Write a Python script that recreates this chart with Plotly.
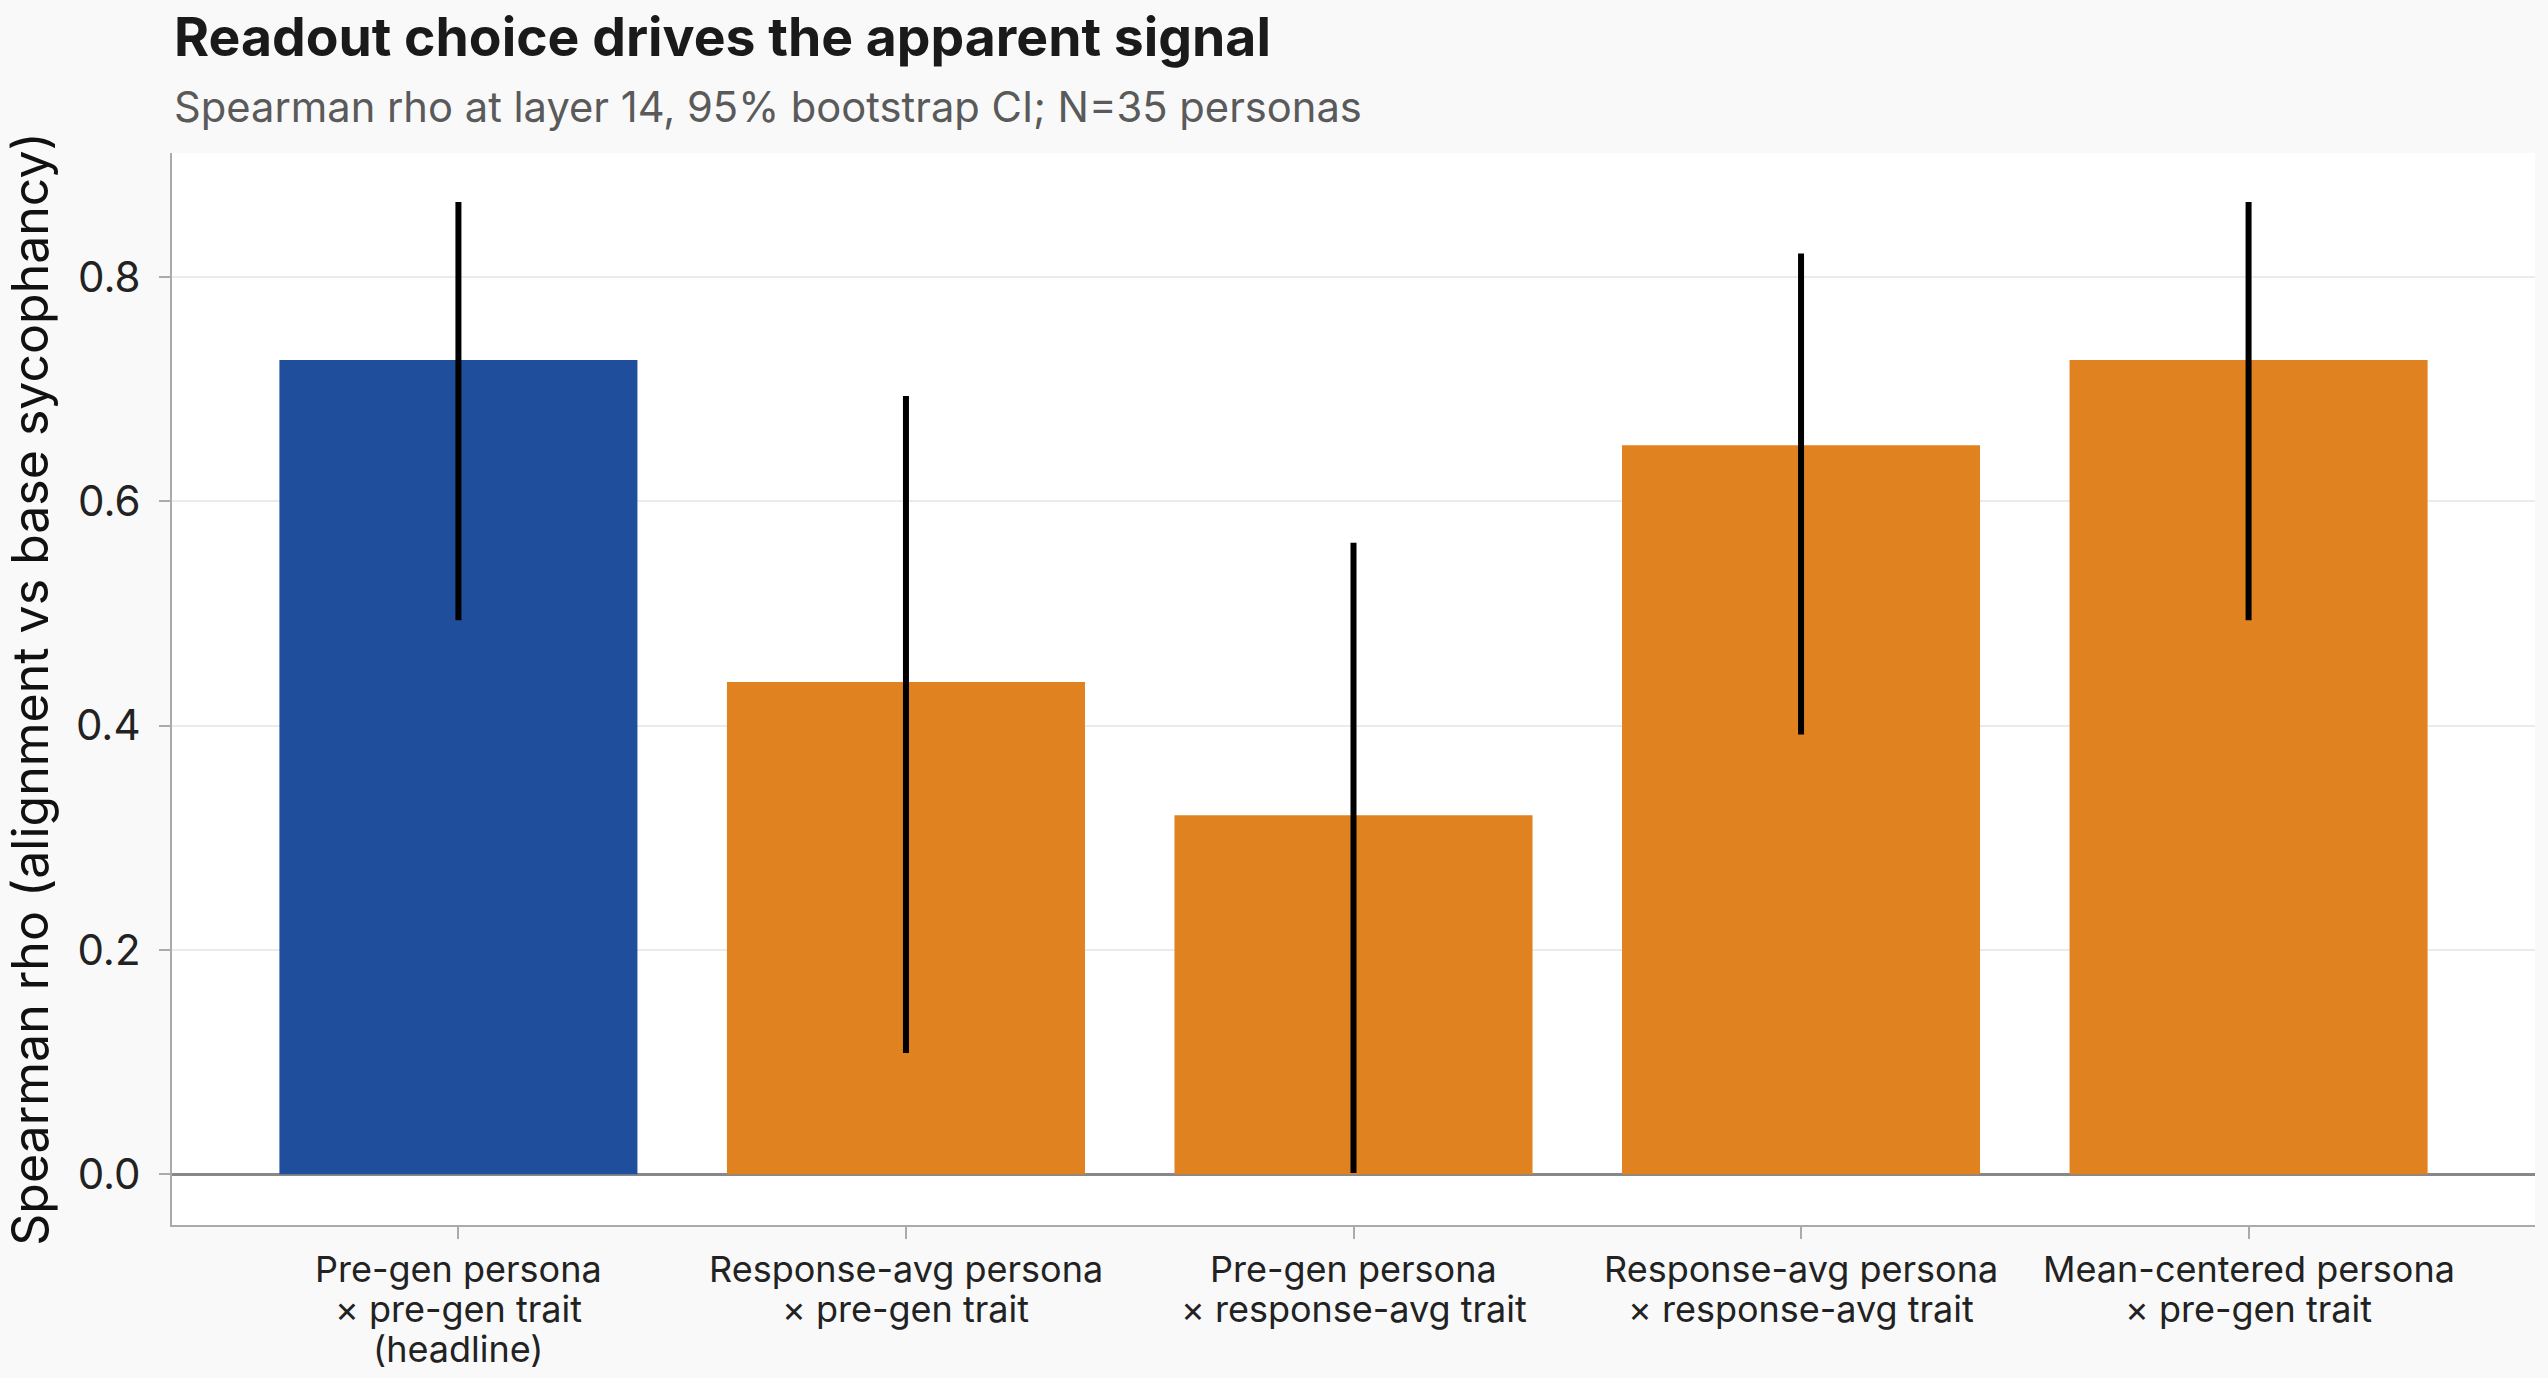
import plotly.graph_objects as go

label_lines = [
    ["Pre-gen persona", "× pre-gen trait", "(headline)"],
    ["Response-avg persona", "× pre-gen trait"],
    ["Pre-gen persona", "× response-avg trait"],
    ["Response-avg persona", "× response-avg trait"],
    ["Mean-centered persona", "× pre-gen trait"],
]
categories = [" ".join(lines) for lines in label_lines]
rho = [0.726, 0.439, 0.320, 0.650, 0.726]
ci_low = [0.494, 0.108, 0.001, 0.392, 0.494]
ci_high = [0.867, 0.694, 0.563, 0.821, 0.867]
bar_colors = ["#1F4F9C", "#E0821F", "#E0821F", "#E0821F", "#E0821F"]
y_ticks = [0.0, 0.2, 0.4, 0.6, 0.8]

err_plus = [h - v for h, v in zip(ci_high, rho)]
err_minus = [v - l for v, l in zip(rho, ci_low)]

FONT = "Inter"
W, H = 2548, 1378
M_L, M_R, M_T, M_B = 172, 13, 153, 153
plot_h = H - M_T - M_B

fig = go.Figure()
fig.add_trace(go.Bar(
    x=categories,
    y=rho,
    marker=dict(color=bar_colors, line=dict(width=0)),
    error_y=dict(type="data", symmetric=False, array=err_plus, arrayminus=err_minus,
                 color="#000000", thickness=6, width=0),
    showlegend=False,
))

annotations = [
    dict(text="<b>Readout choice drives the apparent signal</b>",
         xref="paper", yref="paper", x=0, y=1.109, xanchor="left", yanchor="middle",
         showarrow=False, font=dict(size=53.5, color="#1A1A1A", family=FONT)),
    dict(text="Spearman rho at layer 14, 95% bootstrap CI; N=35 personas",
         xref="paper", yref="paper", x=0, y=1.043, xanchor="left", yanchor="middle",
         showarrow=False, font=dict(size=41.7, color="#5A5A5A", family=FONT)),
]
# multi-line category labels under each tick, tighter line spacing than tick labels allow
line_centers_px = [1269, 1309, 1349]
for cat, lines in zip(categories, label_lines):
    for i, txt in enumerate(lines):
        annotations.append(dict(
            text=txt, xref="x", yref="paper", x=cat,
            y=-(line_centers_px[i] - (H - M_B)) / plot_h,
            xanchor="center", yanchor="middle", showarrow=False,
            font=dict(size=36, color="#222222", family=FONT),
        ))

fig.update_layout(
    width=W, height=H,
    margin=dict(l=M_L, r=M_R, t=M_T, b=M_B),
    paper_bgcolor="#F9F9F9",
    plot_bgcolor="#FFFFFF",
    font=dict(family=FONT, color="#222222"),
    bargap=0.2,
    xaxis=dict(
        range=[-0.64, 4.64],
        automargin=False,
        showline=True, linecolor="#AAAAAA", linewidth=2, mirror=False,
        ticks="outside", ticklen=12, tickwidth=2, tickcolor="#AAAAAA",
        showticklabels=False,
        showgrid=False,
    ),
    yaxis=dict(
        range=[-0.0453, 0.9106],
        automargin=False,
        tickvals=y_ticks,
        ticktext=[f"{v:.1f}" for v in y_ticks],
        showline=True, linecolor="#AAAAAA", linewidth=2,
        ticks="outside", ticklen=11, tickwidth=2, tickcolor="#AAAAAA",
        ticklabelstandoff=10,
        tickfont=dict(size=42, color="#222222", family=FONT),
        showgrid=True, gridcolor="#EBEBEB", gridwidth=2,
        zeroline=True, zerolinecolor="#888888", zerolinewidth=3,
        title=dict(text="Spearman rho (alignment vs base sycophancy)",
                   font=dict(size=50, color="#111111", family=FONT), standoff=14),
    ),
    annotations=annotations,
)

fig.write_html("out.html")
